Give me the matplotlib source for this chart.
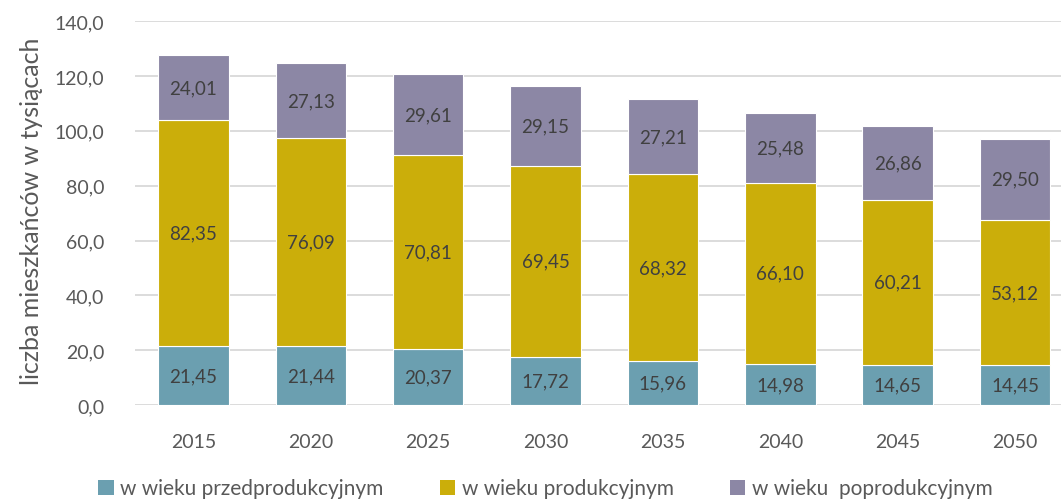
import matplotlib.pyplot as plt
import numpy as np
from matplotlib.patches import Patch

plt.rcParams["font.family"] = ["Lato", "DejaVu Sans"]

YEARS = ["2015", "2020", "2025", "2030", "2035", "2040", "2045", "2050"]
PRE = [21.45, 21.44, 20.37, 17.72, 15.96, 14.98, 14.65, 14.45]
PROD = [82.35, 76.09, 70.81, 69.45, 68.32, 66.10, 60.21, 53.12]
POST = [24.01, 27.13, 29.61, 29.15, 27.21, 25.48, 26.86, 29.50]
LABELS = ["w wieku przedprodukcyjnym", "w wieku produkcyjnym", "w wieku  poprodukcyjnym"]
COLORS = ["#6b9fb0", "#cbae0a", "#8c87a5"]


def fmt(v):
    return f"{v:.2f}".replace(".", ",")


def main():
    fig = plt.figure(figsize=(10.61, 5.02), dpi=100)
    ax = fig.add_axes([0.127, 0.191, 0.885, 0.765])

    x = np.arange(len(YEARS))
    bottom = np.zeros(len(YEARS))
    for vals, col in zip([PRE, PROD, POST], COLORS):
        vals = np.array(vals)
        bars = ax.bar(x, vals, 0.6, bottom=bottom, color=col,
                      edgecolor="white", linewidth=0.8, zorder=2)
        for b, v, btm in zip(bars, vals, bottom):
            ax.text(b.get_x() + b.get_width() / 2, btm + v / 2, fmt(v),
                    ha="center", va="center", fontsize=13.5, color="#404040")
        bottom += vals

    ax.set_xlim(-0.5, len(YEARS) - 0.5)
    ax.set_ylim(0, 140)
    ax.set_yticks(np.arange(0, 141, 20))
    ax.set_yticklabels([f"{t:.1f}".replace(".", ",") for t in np.arange(0, 141, 20)])
    ax.set_xticks(x)
    ax.set_xticklabels(YEARS)
    ax.tick_params(axis="both", length=0, labelsize=14, colors="#595959")
    ax.tick_params(axis="x", pad=20)
    ax.tick_params(axis="y", pad=22)
    ax.grid(axis="y", color="#d9d9d9", linewidth=1.3, zorder=0)
    for s in ax.spines.values():
        s.set_visible(False)

    fig.text(0.03, 0.58, "liczba mieszkańców w tysiącach", rotation=90,
             ha="center", va="center", fontsize=18, color="#595959")

    handles = [Patch(facecolor=c, edgecolor="none") for c in COLORS]
    fig.legend(handles, LABELS, loc="center", bbox_to_anchor=(0.514, 0.025),
               ncol=3, frameon=False, fontsize=15, handlelength=0.75,
               handleheight=0.75, handletextpad=0.3, columnspacing=2.7,
               labelcolor="#595959")

    fig.savefig("out.png", dpi=100)


if __name__ == "__main__":
    main()
